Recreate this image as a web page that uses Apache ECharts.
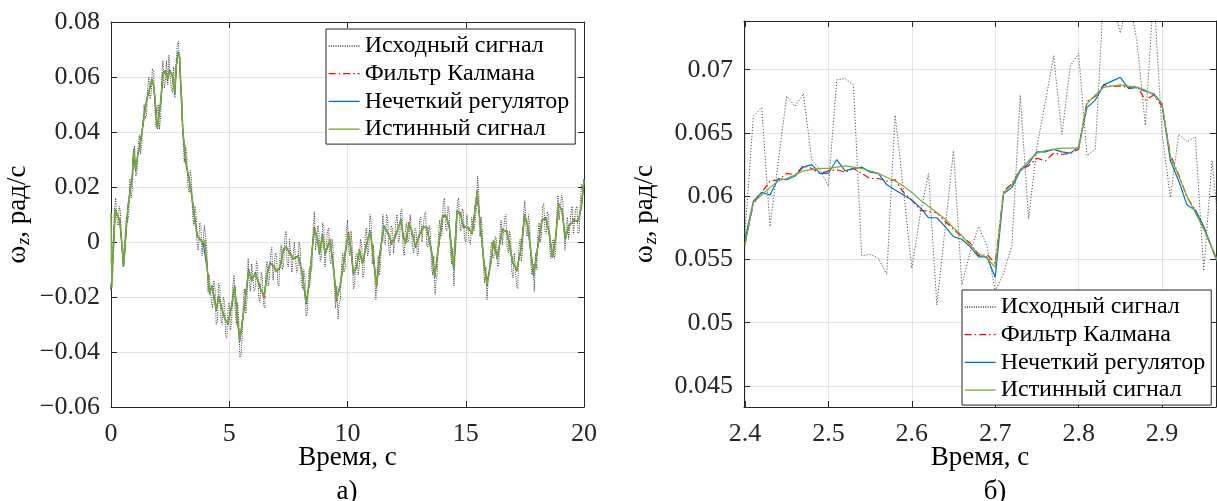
<!DOCTYPE html>
<html><head><meta charset="utf-8">
<script src="https://cdn.jsdelivr.net/npm/echarts@6/dist/echarts.min.js"></script>
<style>html,body{margin:0;padding:0;background:#fff}#c{width:1217px;height:501px}</style>
</head><body><div id="c"></div>
<script>
const FONT = "'Liberation Serif','Times New Roman',serif";
const seriesNames = ['Исходный сигнал','Фильтр Калмана','Нечеткий регулятор','Истинный сигнал'];
const xAxisTitle = 'Время, с';
const panelLabels = ['а)','б)'];

const leftXTicks = [0,5,10,15,20];
const leftYTicks = [-0.06,-0.04,-0.02,0,0.02,0.04,0.06,0.08];
const rightXTicks = [2.4,2.5,2.6,2.7,2.8,2.9];
const rightYTicks = [0.045,0.05,0.055,0.06,0.065,0.07];

// left panel: smooth estimates at read-off times
const leftT = [0,0.04,0.18,0.37,0.54,0.65,0.72,0.82,0.90,0.96,
1.04,1.14,1.22,1.32,1.45,1.56,1.64,1.73,1.80,1.86,
1.96,2.04,2.10,2.20,2.30,2.38,2.48,2.58,2.67,2.70,
2.76,2.83,2.90,2.95,3.04,3.19,3.28,3.40,3.51,3.65,
3.78,3.89,3.96,4.07,4.17,4.27,4.36,4.45,4.55,4.67,
4.83,4.95,5.12,5.23,5.33,5.44,5.58,5.69,5.82,5.96,
6.10,6.29,6.47,6.61,6.72,6.86,7.00,7.15,7.29,7.39,
7.57,7.71,7.92,8.09,8.25,8.39,8.49,8.60,8.74,8.81,
8.94,9.05,9.26,9.40,9.54,9.68,9.90,10.04,10.15,10.25,
10.39,10.50,10.63,10.78,10.95,11.05,11.23,11.37,11.54,11.72,
11.87,12.01,12.26,12.36,12.46,12.60,12.74,12.88,13.02,13.20,
13.36,13.57,13.69,13.83,14.02,14.16,14.30,14.49,14.63,14.77,
14.90,15.12,15.27,15.48,15.62,15.76,15.90,16.08,16.18,16.33,
16.54,16.75,16.98,17.16,17.35,17.49,17.63,17.87,18.08,18.22,
18.39,18.53,18.67,18.79,18.93,19.07,19.21,19.35,19.56,19.75,
19.89,20.00];
const leftTrue = [0.0105,-0.0165,0.0116,0.0080,-0.0084,0.0056,0.0128,0.0195,0.0235,0.0335,
0.0262,0.0320,0.0350,0.0405,0.0490,0.0535,0.0560,0.0590,0.0570,0.0520,
0.0415,0.0470,0.0510,0.0610,0.0622,0.0592,0.0621,0.0612,0.0560,0.0544,
0.0636,0.0686,0.0673,0.0574,0.0400,0.0274,0.0238,0.0177,0.0104,0.0019,
0.0010,-0.0005,0.0007,-0.0096,-0.0187,-0.0162,-0.0200,-0.0247,-0.0199,-0.0235,
-0.0284,-0.0296,-0.0223,-0.0162,-0.0260,-0.0360,-0.0272,-0.0199,-0.0102,-0.0138,
-0.0114,-0.0162,-0.0199,-0.0114,-0.0078,-0.0084,-0.0108,-0.0090,-0.0029,-0.0017,
-0.0041,-0.0059,-0.0053,-0.0114,-0.0223,-0.0150,-0.0041,0.0050,0.0007,-0.0041,
0.0025,-0.0041,0.0007,-0.0090,-0.0211,-0.0162,-0.0041,0.0032,-0.0029,-0.0114,
-0.0090,-0.0029,-0.0078,-0.0017,0.0038,-0.0017,-0.0162,-0.0041,0.0056,0.0032,
-0.0005,0.0019,0.0080,0.0019,-0.0005,0.0068,0.0032,-0.0017,0.0019,0.0056,
0.0050,-0.0041,-0.0126,-0.0029,0.0092,0.0098,0.0056,-0.0096,0.0110,0.0104,
0.0056,0.0050,0.0032,0.0183,0.0056,-0.0065,-0.0156,-0.0065,0.0007,-0.0059,
0.0044,0.0038,-0.0072,-0.0102,-0.0017,0.0098,0.0056,-0.0120,0.0001,0.0080,
0.0086,0.0032,-0.0053,0.0007,0.0135,0.0116,0.0013,0.0056,0.0080,0.0074,
0.0128,0.0225];
const leftKalman = [-0.0175,-0.0120,0.0112,0.0084,-0.0078,0.0050,0.0124,0.0199,0.0230,0.0328,
0.0268,0.0316,0.0354,0.0401,0.0494,0.0530,0.0564,0.0586,0.0574,0.0516,
0.0420,0.0466,0.0514,0.0606,0.0625,0.0588,0.0618,0.0614,0.0563,0.0547,
0.0633,0.0687,0.0671,0.0578,0.0404,0.0270,0.0241,0.0173,0.0108,0.0015,
0.0014,-0.0009,0.0010,-0.0092,-0.0183,-0.0166,-0.0196,-0.0243,-0.0203,-0.0231,
-0.0288,-0.0292,-0.0227,-0.0166,-0.0256,-0.0355,-0.0276,-0.0195,-0.0106,-0.0134,
-0.0118,-0.0158,-0.0203,-0.0110,-0.0082,-0.0080,-0.0112,-0.0086,-0.0033,-0.0013,
-0.0045,-0.0055,-0.0057,-0.0110,-0.0219,-0.0154,-0.0045,0.0054,0.0003,-0.0037,
0.0021,-0.0037,0.0011,-0.0094,-0.0215,-0.0158,-0.0045,0.0036,-0.0025,-0.0110,
-0.0094,-0.0025,-0.0082,-0.0013,0.0034,-0.0013,-0.0166,-0.0037,0.0052,0.0036,
-0.0009,0.0023,0.0076,0.0023,-0.0009,0.0072,0.0028,-0.0013,0.0015,0.0060,
0.0046,-0.0037,-0.0122,-0.0033,0.0088,0.0102,0.0052,-0.0092,0.0106,0.0108,
0.0052,0.0054,0.0028,0.0187,0.0052,-0.0061,-0.0152,-0.0069,0.0011,-0.0055,
0.0040,0.0042,-0.0068,-0.0106,-0.0013,0.0094,0.0060,-0.0116,-0.0003,0.0084,
0.0082,0.0036,-0.0049,0.0003,0.0139,0.0112,0.0017,0.0052,0.0084,0.0070,
0.0132,0.0221];
const leftFuzzy = [-0.0175,-0.0110,0.0119,0.0077,-0.0088,0.0059,0.0131,0.0192,0.0238,0.0340,
0.0258,0.0324,0.0346,0.0409,0.0486,0.0539,0.0556,0.0594,0.0566,0.0524,
0.0411,0.0474,0.0506,0.0614,0.0618,0.0596,0.0625,0.0608,0.0557,0.0537,
0.0639,0.0692,0.0676,0.0570,0.0396,0.0278,0.0234,0.0181,0.0100,0.0023,
0.0006,-0.0001,0.0003,-0.0100,-0.0191,-0.0158,-0.0204,-0.0251,-0.0195,-0.0239,
-0.0280,-0.0300,-0.0219,-0.0158,-0.0264,-0.0364,-0.0268,-0.0203,-0.0098,-0.0142,
-0.0110,-0.0166,-0.0195,-0.0118,-0.0074,-0.0088,-0.0104,-0.0094,-0.0025,-0.0021,
-0.0037,-0.0063,-0.0049,-0.0118,-0.0227,-0.0146,-0.0037,0.0046,0.0011,-0.0045,
0.0029,-0.0045,0.0003,-0.0086,-0.0207,-0.0166,-0.0037,0.0028,-0.0033,-0.0118,
-0.0086,-0.0033,-0.0074,-0.0021,0.0042,-0.0021,-0.0158,-0.0045,0.0060,0.0028,
-0.0001,0.0015,0.0084,0.0015,-0.0001,0.0064,0.0036,-0.0021,0.0023,0.0052,
0.0054,-0.0045,-0.0130,-0.0025,0.0096,0.0094,0.0060,-0.0100,0.0114,0.0100,
0.0060,0.0046,0.0036,0.0179,0.0060,-0.0069,-0.0160,-0.0061,0.0003,-0.0063,
0.0048,0.0034,-0.0076,-0.0098,-0.0021,0.0102,0.0052,-0.0124,0.0005,0.0076,
0.0090,0.0028,-0.0057,0.0011,0.0131,0.0120,0.0009,0.0060,0.0076,0.0078,
0.0124,0.0229];

// left panel: noisy measured signal, one value every 0.05 s from 0 to 20 s (one row = 1 s)
const leftRawStep = 0.05;
const leftRaw = [
-0.006,-0.012,0.002,0.012,0.016,0.008,0.006,0.013,0.011,-0.001,-0.009,-0.003,0.003,0.009,0.007,0.010,0.023,0.016,0.019,0.030,
0.035,0.024,0.026,0.035,0.039,0.032,0.035,0.044,0.050,0.045,0.046,0.056,0.060,0.052,0.054,0.063,0.062,0.049,0.042,0.047,
0.050,0.041,0.046,0.061,0.066,0.056,0.058,0.066,0.0571,0.0679,0.0608,0.0554,0.0543,0.0636,0.0525,0.0639,0.0713,0.0729,0.0650,0.0541,
0.053,0.036,0.029,0.035,0.032,0.021,0.018,0.026,0.023,0.010,0.006,0.013,0.010,-0.002,-0.003,0.007,0.006,-0.005,-0.005,0.006,
0.002,-0.002,-0.018,-0.012,-0.012,-0.022,-0.024,-0.014,-0.017,-0.030,-0.029,-0.015,-0.016,-0.028,-0.030,-0.020,-0.022,-0.034,-0.035,-0.024,
-0.022,-0.032,-0.029,-0.016,-0.012,-0.024,-0.030,-0.022,-0.028,-0.042,-0.041,-0.034,-0.020,-0.017,-0.026,-0.021,-0.006,-0.015,-0.018,-0.008,
-0.008,-0.018,-0.017,-0.007,-0.009,-0.020,-0.022,-0.011,-0.013,-0.023,-0.024,-0.010,-0.007,-0.016,-0.013,-0.004,-0.002,-0.014,-0.014,-0.004,
-0.005,-0.015,-0.016,-0.004,-0.001,-0.010,-0.008,0.002,0.004,-0.008,-0.009,0.001,0.001,-0.011,-0.011,0.000,0.000,-0.011,-0.010,0.000,
-0.002,-0.015,-0.017,-0.010,-0.013,-0.027,-0.026,-0.012,-0.009,-0.011,-0.009,0.006,0.011,-0.003,-0.003,0.006,0.002,-0.007,-0.005,0.007,
0.005,-0.009,-0.009,0.004,0.005,-0.006,-0.008,0.001,-0.003,-0.018,-0.024,-0.016,-0.028,-0.022,-0.021,-0.008,-0.004,-0.011,-0.010,0.004,
0.008,-0.003,-0.005,0.004,-0.002,-0.017,-0.016,-0.005,-0.004,-0.012,-0.009,0.001,-0.001,-0.013,-0.011,0.003,0.005,-0.005,-0.003,0.010,
0.007,-0.008,-0.001,-0.012,-0.021,-0.011,-0.005,-0.012,-0.008,0.002,0.010,0.000,-0.001,0.010,0.009,-0.003,-0.005,0.006,0.005,-0.004,
-0.004,0.008,0.010,0.000,0.001,0.011,0.012,-0.002,-0.005,0.005,0.007,0.000,0.001,0.010,0.010,-0.002,-0.004,0.005,0.004,-0.005,
-0.004,0.008,0.009,0.000,0.000,0.010,0.011,-0.001,-0.002,0.006,0.004,-0.008,-0.012,-0.005,-0.019,-0.014,-0.011,0.003,0.008,0.002,
0.003,0.015,0.016,0.005,0.004,0.013,0.011,-0.003,-0.008,-0.002,-0.016,-0.005,0.001,0.015,0.016,0.006,0.004,0.012,0.011,0.001,
0.000,0.010,0.010,0.000,-0.001,0.009,0.009,0.004,0.008,0.012,0.024,0.018,0.002,0.009,0.004,-0.009,-0.015,-0.009,-0.021,-0.012,
-0.010,-0.003,0.000,-0.006,-0.005,0.002,0.001,-0.009,-0.008,0.004,0.008,-0.001,-0.001,0.009,0.010,-0.002,-0.004,0.004,0.002,-0.011,
-0.013,-0.004,-0.004,-0.016,-0.017,-0.002,0.001,-0.007,-0.003,0.011,0.015,0.004,0.002,0.010,0.006,-0.007,-0.012,-0.008,-0.018,-0.004,
-0.010,0.003,0.007,0.000,0.002,0.013,0.014,0.004,0.003,0.011,0.010,-0.002,-0.006,-0.001,0.001,-0.006,-0.004,0.010,0.017,0.008,
0.008,0.017,0.015,0.004,-0.003,0.006,0.009,0.001,0.001,0.011,0.013,0.003,0.003,0.012,0.013,0.003,0.004,0.016,0.021,0.018,
0.020];

// right panel (zoom 2.4 .. 2.97 s), one value every 0.01 s
const rightT = [2.40,2.41,2.42,2.43,2.44,2.45,2.46,2.47,2.48,2.49,
2.50,2.51,2.52,2.53,2.54,2.55,2.56,2.57,2.58,2.59,
2.60,2.61,2.62,2.63,2.64,2.65,2.66,2.67,2.68,2.69,
2.70,2.71,2.72,2.73,2.74,2.75,2.76,2.77,2.78,2.79,
2.80,2.81,2.82,2.83,2.84,2.85,2.86,2.87,2.88,2.89,
2.90,2.91,2.92,2.93,2.94,2.95,2.96,2.97];
const rightRaw = [0.0571,0.0663,0.0670,0.0576,0.0628,0.0679,0.0671,0.0681,0.0629,0.0621,
0.0608,0.0692,0.0693,0.0688,0.0553,0.0554,0.0551,0.0538,0.0664,0.0605,
0.0543,0.0585,0.0618,0.0514,0.0575,0.0636,0.0530,0.0556,0.0576,0.0561,
0.0525,0.0539,0.0561,0.0680,0.0582,0.0639,0.0674,0.0711,0.0649,0.0703,
0.0713,0.0632,0.0637,0.0760,0.0755,0.0729,0.0758,0.0722,0.0656,0.0762,
0.0650,0.0599,0.0649,0.0643,0.0647,0.0541,0.0628,0.0560];
const rightKalman = [0.0562,0.0594,0.0603,0.0612,0.0613,0.0618,0.0617,0.0624,0.0622,0.0618,
0.0620,0.0621,0.0619,0.0622,0.0618,0.0614,0.0614,0.0612,0.0613,0.0603,
0.0597,0.0589,0.0588,0.0587,0.0580,0.0574,0.0568,0.0563,0.0553,0.0554,
0.0547,0.0604,0.0610,0.0621,0.0624,0.0630,0.0628,0.0634,0.0633,0.0634,
0.0637,0.0675,0.0679,0.0688,0.0687,0.0687,0.0686,0.0687,0.0676,0.0680,
0.0671,0.0633,0.0617,0.0599,0.0589,0.0575,0.0558,0.0543];
const rightFuzzy = [0.0566,0.0596,0.0603,0.0601,0.0614,0.0613,0.0616,0.0623,0.0625,0.0618,
0.0618,0.0629,0.0620,0.0622,0.0623,0.0619,0.0618,0.0609,0.0605,0.0601,
0.0597,0.0591,0.0583,0.0583,0.0576,0.0568,0.0566,0.0560,0.0552,0.0552,
0.0536,0.0602,0.0607,0.0620,0.0626,0.0635,0.0635,0.0637,0.0635,0.0634,
0.0639,0.0670,0.0676,0.0688,0.0691,0.0694,0.0685,0.0686,0.0683,0.0681,
0.0673,0.0628,0.0612,0.0593,0.0589,0.0576,0.0559,0.0542];
const rightTrue = [0.0562,0.05955,0.0601,0.0607,0.0612,0.0614,0.0617,0.0620,0.0621,0.0622,
0.0622,0.0623,0.0624,0.0623,0.0622,0.0620,0.0618,0.0615,0.0612,0.0608,
0.0603,0.0597,0.0592,0.0587,0.0582,0.0575,0.0569,0.0561,0.0555,0.0551,
0.0544,0.0603,0.0609,0.0621,0.0628,0.0634,0.0636,0.0637,0.0638,0.0638,
0.0638,0.0673,0.0680,0.0686,0.0687,0.0688,0.0687,0.0686,0.0684,0.0680,
0.0673,0.0631,0.0616,0.0600,0.0587,0.0574,0.0559,0.0544];

const leftRange = {x:[0,20], y:[-0.06,0.08]};
const rightRange = {x:[2.3988,2.9647], y:[0.04334,0.07385]};

const pairs = (ts, vs) => vs.map((v, i) => [ts[i], v]);
const leftRawPairs = leftRaw.map((v, i) => [+(i * leftRawStep).toFixed(2), v]);

const C = {raw:'#555555', rawDense:'#3a3a3a', kal:'#ff0000', fuz:'#0072BD', tru:'#77AC30', ax:'#262626', grid:'#e3e3e3'};

function fmtLeftY(v){ if (Math.abs(v) < 1e-9) return '0'; return (v < 0 ? '\u2212' : '') + Math.abs(v).toFixed(2); }
function fmtRightY(v){ return String(parseFloat(v.toFixed(4))); }

function xAxes(g, range, ticks, fmt){
  const base = {type:'value', gridIndex:g, min:range[0], max:range[1],
    axisLine:{show:true, onZero:false, lineStyle:{color:C.ax, width:1}},
    axisTick:{show:true, inside:true, length:6, customValues:ticks, lineStyle:{color:C.ax, width:1}}};
  return [
    Object.assign({}, base, {position:'bottom',
      axisLabel:{show:true, customValues:ticks, margin:14, color:C.ax, fontFamily:FONT, fontSize:26, formatter:fmt},
      splitLine:{show:true, lineStyle:{color:C.grid, width:1}},
      name:xAxisTitle, nameLocation:'middle', nameGap:37, nameMoveOverlap:false,
      nameTextStyle:{fontFamily:FONT, fontSize:27, color:'#000'}}),
    Object.assign({}, base, {position:'top', axisLabel:{show:false}, splitLine:{show:false}})
  ];
}
function yAxes(g, range, ticks, fmt, gap){
  const base = {type:'value', gridIndex:g, min:range[0], max:range[1],
    axisLine:{show:true, onZero:false, lineStyle:{color:C.ax, width:1}},
    axisTick:{show:true, inside:true, length:6, customValues:ticks, lineStyle:{color:C.ax, width:1}}};
  return [
    Object.assign({}, base, {position:'left',
      axisLabel:{show:true, customValues:ticks, margin:11, color:C.ax, fontFamily:FONT, fontSize:26, formatter:fmt},
      splitLine:{show:true, lineStyle:{color:C.grid, width:1}},
      name:'{w|ω}{s|z}{w|, рад/с}', nameLocation:'middle', nameGap:gap,
      nameTextStyle:{fontFamily:FONT, fontSize:27, color:'#000',
        rich:{w:{fontFamily:FONT, fontSize:27, color:'#000'},
              s:{fontFamily:FONT, fontSize:18, fontStyle:'italic', color:'#000', padding:[12,0,0,1]}}}}),
    Object.assign({}, base, {position:'right', axisLabel:{show:false}, splitLine:{show:false}})
  ];
}

function mkSeries(xi, yi, raw, kal, fuz, tru, trueWidth, rawColor, rawDash){
  const common = {type:'line', xAxisIndex:xi, yAxisIndex:yi, symbol:'none', showSymbol:false, silent:true, animation:false, clip:true};
  return [
    Object.assign({}, common, {name:seriesNames[0], data:raw, itemStyle:{color:C.raw}, lineStyle:{color:rawColor, width:1, type:rawDash}}),
    Object.assign({}, common, {name:seriesNames[1], data:kal, itemStyle:{color:C.kal}, lineStyle:{color:C.kal, width:1.2, type:[7,3,1.5,3]}}),
    Object.assign({}, common, {name:seriesNames[2], data:fuz, itemStyle:{color:C.fuz}, lineStyle:{color:C.fuz, width:1.2}}),
    Object.assign({}, common, {name:seriesNames[3], data:tru, itemStyle:{color:C.tru}, lineStyle:{color:C.tru, width:trueWidth}})
  ];
}

function mkLegend(left, top){
  return {orient:'vertical', left:left, top:top, padding:[5,6,3,2], itemWidth:31, itemHeight:14, itemGap:3.7,
    borderColor:C.ax, borderWidth:1, backgroundColor:'#fff', selectedMode:false, data:seriesNames,
    textStyle:{fontFamily:FONT, fontSize:24, color:'#000', lineHeight:24},
    itemStyle:{opacity:0}, lineStyle:{width:1.3}};
}

const chart = echarts.init(document.getElementById('c'), null, {renderer:'canvas'});
chart.setOption({
  animation:false,
  backgroundColor:'#fff',
  grid:[{left:111, top:22, width:473, height:385}, {left:744, top:21, width:472, height:386}],
  xAxis:[...xAxes(0, leftRange.x, leftXTicks, v => String(Math.round(v))),
         ...xAxes(1, rightRange.x, rightXTicks, v => v.toFixed(1))],
  yAxis:[...yAxes(0, leftRange.y, leftYTicks, fmtLeftY, 78),
         ...yAxes(1, rightRange.y, rightYTicks, fmtRightY, 84)],
  legend:[mkLegend(326, 29), mkLegend(962, 290)],
  series:[
    ...mkSeries(0, 0, leftRawPairs, pairs(leftT, leftKalman), pairs(leftT, leftFuzzy), pairs(leftT, leftTrue), 1.5, C.rawDense, [1,1.3]),
    ...mkSeries(2, 2, pairs(rightT, rightRaw), pairs(rightT, rightKalman), pairs(rightT, rightFuzzy), pairs(rightT, rightTrue), 1.2, C.raw, [1.2,1.8])
  ],
  graphic:[
    {type:'text', x:347, y:492, style:{text:panelLabels[0], fontFamily:FONT, fontSize:27, fill:'#000', textAlign:'center', textVerticalAlign:'middle'}},
    {type:'text', x:995, y:492, style:{text:panelLabels[1], fontFamily:FONT, fontSize:27, fill:'#000', textAlign:'center', textVerticalAlign:'middle'}}
  ]
});
</script></body></html>
